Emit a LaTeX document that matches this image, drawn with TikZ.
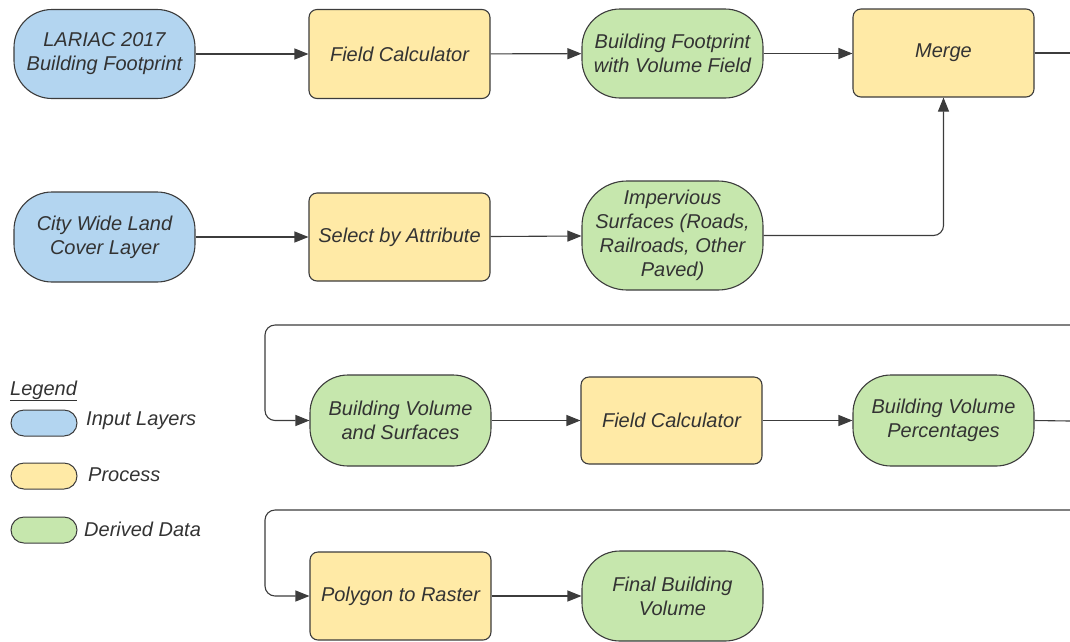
\documentclass[tikz,border=0pt]{standalone}
\usepackage{fontspec}
\setmainfont{Liberation Sans}
\usetikzlibrary{arrows.meta}
\definecolor{inblue}{HTML}{B3D5F0}
\definecolor{procyel}{HTML}{FFEAA6}
\definecolor{dergreen}{HTML}{C6E7AD}
\definecolor{edge}{HTML}{3C3C3C}
\definecolor{txt}{HTML}{333333}
\tikzset{
  x=1pt, y=-1pt,
  box/.style={draw=edge, line width=1.1pt, minimum width=181pt, minimum height=89pt,
    inner sep=2pt, align=center, text=txt,
    font=\fontsize{20}{24}\selectfont\itshape},
  inputbox/.style={box, fill=inblue, rounded corners=38pt},
  procbox/.style={box, fill=procyel, rounded corners=8pt},
  databox/.style={box, fill=dergreen, rounded corners=38pt},
  flow/.style={draw=edge, line width=1.1pt, rounded corners=10pt,
    -{Triangle[length=14pt,width=11pt]}},
  plain/.style={draw=edge, line width=1.1pt, rounded corners=10pt},
  keybox/.style={draw=edge, line width=1pt, minimum width=66pt, minimum height=26pt,
    inner sep=0pt, rounded corners=13pt},
  keytext/.style={anchor=west, text=txt, inner sep=0pt,
    font=\fontsize{20}{24}\selectfont\itshape}
}
\begin{document}
\begin{tikzpicture}
\useasboundingbox (0,0) rectangle (1070,641);

% first row
\node[inputbox] (lariac) at (104.5,54) {LARIAC 2017\\Building Footprint};
\node[procbox]  (fc1)    at (399.5,54) {Field Calculator};
\node[databox]  (bfv)    at (672.5,53.5) {Building Footprint\\with Volume Field};
\node[procbox, minimum height=88pt] (merge) at (943.5,53) {Merge};

% second row
\node[inputbox, minimum height=90pt] (land) at (104.5,237) {City Wide Land\\Cover Layer};
\node[procbox, minimum height=88pt]  (sel)  at (399.5,237) {Select by Attribute};
\node[databox, minimum height=109pt, rounded corners=45pt] (imp) at (672.5,235.5)
  {Impervious\\Surfaces (Roads,\\Railroads, Other\\Paved)};

% third row
\node[databox, minimum height=91pt] (bvs) at (400.5,420.5) {Building Volume\\and Surfaces};
\node[procbox, minimum height=87pt] (fc2) at (671.5,420.5) {Field Calculator};
\node[databox, minimum height=91pt] (bvp) at (943.5,420.5) {Building Volume\\Percentages};

% fourth row
\node[procbox, minimum height=88pt] (p2r) at (400.5,596) {Polygon to Raster};
\node[databox, minimum height=90pt] (fbv) at (672.5,596) {Final Building\\Volume};

% connectors
\draw[flow] (lariac) -- (fc1);
\draw[flow] (fc1) -- (bfv);
\draw[flow] (bfv.east) -- (merge.west |- bfv.east);
\draw[flow] (land) -- (sel);
\draw[flow] (sel) -- (imp);
\draw[flow] (imp.east) -| (merge.south);

\coordinate (out1) at (1070,53);
\coordinate (in1)  at (1070,325);
\coordinate (out2) at (1070,421);
\coordinate (in2)  at (1070,510);
\draw[plain] (merge.east) -- (out1);
\draw[flow] (in1) -- (265,325) |- (bvs.west);
\draw[flow] (bvs) -- (fc2);
\draw[flow] (fc2) -- (bvp);
\draw[plain] (bvp.east) -- (out2);
\draw[flow] (in2) -- (265,510) |- (p2r.west);
\draw[flow] (p2r) -- (fbv);

% legend
\node[keytext, anchor=base west] (legend) at (10,395) {\underline{Legend}};
\node[keybox, fill=inblue]   (kin)   at (44,423) {};
\node[keybox, fill=procyel]  (kproc) at (44,476) {};
\node[keybox, fill=dergreen] (kder)  at (44,530) {};
\node[keytext] (lin)   at (86,421) {Input Layers};
\node[keytext] (lproc) at (88,475) {Process};
\node[keytext] (lder)  at (84,529) {Derived Data};
\end{tikzpicture}
\end{document}
